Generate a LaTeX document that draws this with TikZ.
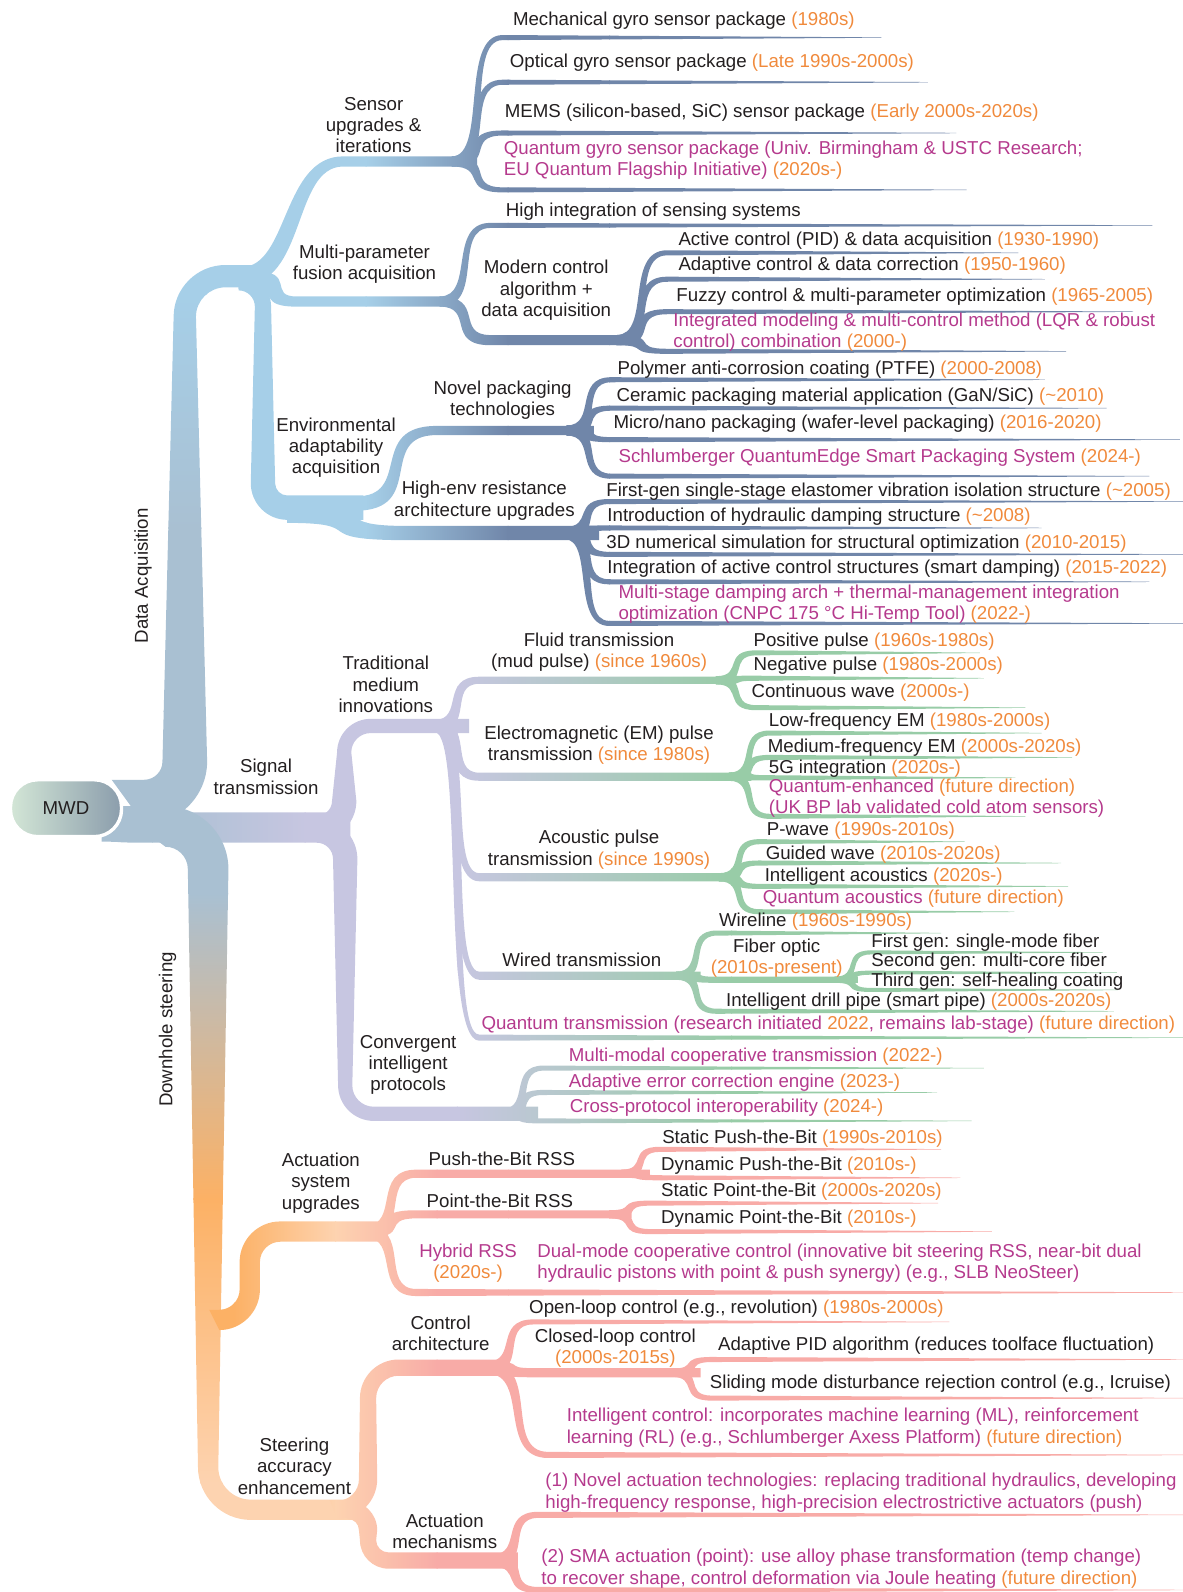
\documentclass[tikz,border=0pt]{standalone}
\usepackage{fontspec}
\setmainfont{Liberation Sans}

\definecolor{ink}{HTML}{231F20}
\definecolor{yearorange}{HTML}{F08A3C}
\definecolor{techmagenta}{HTML}{B53A8D}
\definecolor{trunkblue}{HTML}{A9C0D2}
\definecolor{dalight}{HTML}{A6CFE8}
\definecolor{dadark}{HTML}{7086A9}
\definecolor{siglav}{HTML}{C7C6E1}
\definecolor{siggreen}{HTML}{98CCA7}
\definecolor{steorange}{HTML}{FCB165}
\definecolor{stepeach}{HTML}{FDD3B0}
\definecolor{stepink}{HTML}{F8ABA7}
\definecolor{mwdleft}{HTML}{D3E6D6}
\definecolor{mwdright}{HTML}{8B9DAC}

\newcommand{\yrs}[1]{\textcolor{yearorange}{#1}}
\newcommand{\newtech}[1]{\textcolor{techmagenta}{#1}}
\newcommand{\twigbend}{0.8}

% twig: style, start (x,y), bend end (x,y), tip x, start/end/tip half widths
\newcommand{\twig}[9]{%
  \path[#1] (#2,{#3-#7})
    .. controls ({#2+\twigbend*(#4-#2)+sign(#5-#3)*#7},{#3-#7})
           and ({#4-\twigbend*(#4-#2)+sign(#5-#3)*#8},{#5-#8}) .. (#4,{#5-#8})
    -- (#6,{#5-#9}) -- (#6,{#5+#9}) -- (#4,{#5+#8})
    .. controls ({#4-\twigbend*(#4-#2)-sign(#5-#3)*#8},{#5+#8})
           and ({#2+\twigbend*(#4-#2)-sign(#5-#3)*#7},{#3+#7}) .. (#2,{#3+#7})
    -- cycle;}

% stem: style, start, end, tip x, half widths, corner radius
\newcommand{\stem}[9]{%
  \pgfmathsetmacro{\stemsg}{sign(#5-#3)}%
  \pgfmathsetmacro{\stemxc}{(#2+#4)/2}%
  \pgfmathsetmacro{\stemta}{\stemxc+\stemsg*#7}%
  \pgfmathsetmacro{\stemtb}{\stemxc+\stemsg*#8}%
  \pgfmathsetmacro{\stemba}{\stemxc-\stemsg*#7}%
  \pgfmathsetmacro{\stembb}{\stemxc-\stemsg*#8}%
  \pgfmathsetmacro{\stemra}{#9+\stemsg*#7}%
  \pgfmathsetmacro{\stemrb}{#9-\stemsg*#8}%
  \pgfmathsetmacro{\stemrc}{#9+\stemsg*#8}%
  \pgfmathsetmacro{\stemrd}{#9-\stemsg*#7}%
  \path[#1] (#2,{#3-#7}) -- ({\stemta-\stemra},{#3-#7})
    .. controls ({\stemta-0.45*\stemra},{#3-#7}) and (\stemta,{#3-#7+\stemsg*0.45*\stemra}) .. (\stemta,{#3-#7+\stemsg*\stemra})
    -- (\stemtb,{#5-#8-\stemsg*\stemrb})
    .. controls (\stemtb,{#5-#8-\stemsg*0.45*\stemrb}) and ({\stemtb+0.45*\stemrb},{#5-#8}) .. ({\stemtb+\stemrb},{#5-#8})
    -- (#6,{#5-#8}) -- (#6,{#5+#8}) -- ({\stembb+\stemrc},{#5+#8})
    .. controls ({\stembb+0.45*\stemrc},{#5+#8}) and (\stembb,{#5+#8-\stemsg*0.45*\stemrc}) .. (\stembb,{#5+#8-\stemsg*\stemrc})
    -- (\stemba,{#3+#7+\stemsg*\stemrd})
    .. controls (\stemba,{#3+#7+\stemsg*0.45*\stemrd}) and ({\stemba-0.45*\stemrd},{#3+#7}) .. ({\stemba-\stemrd},{#3+#7})
    -- cycle;}

\tikzset{
  txt/.style={inner sep=0pt, text=ink, font=\fontsize{13.8}{15.75}\selectfont},
  leaf/.style={txt, anchor=west, align=left},
  hub/.style={txt, align=center},
  hshade/.style n args={8}{path picture={
    \fill[#1] (-20,-20) rectangle ({#5+1},1600);
    \shade[left color=#1, right color=#2] (#5,-20) rectangle ({#6+1},1600);
    \shade[left color=#2, right color=#3] (#6,-20) rectangle ({#7+1},1600);
    \shade[left color=#3, right color=#4] (#7,-20) rectangle ({#8+1},1600);
    \fill[#4] (#8,-20) rectangle (1200,1600);}},
  vshade/.style n args={6}{path picture={
    \fill[#1] (-20,-20) rectangle (1200,{#4+1});
    \shade[top color=#1, bottom color=#2] (-20,#4) rectangle (1200,{#5+1});
    \shade[top color=#2, bottom color=#3] (-20,#5) rectangle (1200,{#6+1});
    \fill[#3] (-20,#6) rectangle (1200,1600);}},
  da/.style={hshade={dalight}{dalight}{dadark}{dadark}{200}{360}{500}{600}},
  tA/.style={vshade={dalight}{trunkblue}{trunkblue}{290}{520}{700}},
  sg/.style={hshade={trunkblue}{siglav}{siglav}{siggreen}{150}{300}{450}{720}},
  tC/.style={vshade={trunkblue}{steorange}{stepeach}{880}{1180}{1460}},
  st/.style={hshade={steorange}{stepeach}{stepink}{stepink}{230}{330}{430}{500}},
}

\begin{document}
\begin{tikzpicture}[x=0.75pt, y=-0.75pt]
\useasboundingbox (0,0) rectangle (1165,1568);

% Data acquisition
\stem{tA}{110}{790}{254}{272}{258}{22}{11}{40}
{\renewcommand{\twigbend}{0.55}\twig{da}{238}{272}{338}{159}{470}{9}{5}{5}}
\twig{da}{445}{159}{495}{37}{868}{5}{2.5}{0.2}
\twig{da}{445}{159}{495}{81}{914}{5}{2.5}{0.2}
\twig{da}{445}{159}{495}{131}{942}{5}{2.5}{0.2}
\twig{da}{445}{159}{495}{187}{952}{5}{2.5}{0.2}
\twig{da}{250}{276}{292}{297}{440}{9}{5}{5}
\twig{da}{433}{297}{483}{222}{1135}{5}{2.5}{0.2}
\twig{da}{433}{297}{483}{335}{628}{5}{5}{5}
\twig{da}{607}{335}{657}{249}{1003}{5}{2.5}{0.2}
\twig{da}{607}{335}{657}{275}{1029}{5}{2.5}{0.2}
\twig{da}{607}{335}{657}{307}{1116}{5}{2.5}{0.2}
\twig{da}{607}{335}{657}{346}{1050}{5}{2.5}{0.2}
\stem{da}{234}{278}{284}{500}{358}{8}{12}{24}
\twig{da}{350}{496}{430}{424}{585}{7}{4.5}{4.5}
\twig{da}{558}{424}{602}{374}{1029}{5}{2.5}{0.2}
\twig{da}{558}{424}{602}{402}{1090}{5}{2.5}{0.2}
\twig{da}{558}{424}{602}{433}{1162}{5}{2.5}{0.2}
\twig{da}{558}{424}{602}{469}{1132}{5}{2.5}{0.2}
\twig{da}{283}{505}{400}{525}{590}{10}{7}{7}
\twig{da}{556}{525}{600}{494}{1165}{6}{2.5}{0.2}
\twig{da}{556}{525}{600}{520}{1026}{6}{2.5}{0.2}
\twig{da}{556}{525}{600}{546}{1165}{6}{2.5}{0.2}
\twig{da}{556}{525}{600}{573}{1132}{6}{2.5}{0.2}
\twig{da}{556}{525}{600}{614}{1165}{6}{2.5}{0.2}

% Signal transmission
\twig{sg}{100}{813}{160}{815}{345}{16}{15}{15}
\stem{sg}{310}{815}{368}{715}{462}{12}{7}{26}
\stem{sg}{310}{818}{370}{1097}{530}{12}{7}{28}
\twig{sg}{428}{715}{472}{670}{725}{6}{3.5}{3.5}
\twig{sg}{428}{715}{472}{765}{740}{6}{4}{4}
\twig{sg}{428}{715}{472}{864}{728}{6}{4}{4}
\twig{sg}{428}{715}{472}{961}{690}{6}{4}{4}
\twig{sg}{428}{715}{472}{1022}{1165}{6}{3}{0.2}
\twig{sg}{705}{670}{745}{643}{965}{4}{2.5}{0.2}
\twig{sg}{705}{670}{745}{668}{969}{4}{2.5}{0.2}
\twig{sg}{705}{670}{745}{697}{1010}{4}{2.5}{0.2}
\twig{sg}{718}{765}{758}{722}{1026}{4}{2.5}{0.2}
\twig{sg}{718}{765}{758}{746}{1056}{4}{2.5}{0.2}
\twig{sg}{718}{765}{758}{766}{1000}{4}{2.5}{0.2}
\twig{sg}{718}{765}{758}{804}{1010}{4}{2.5}{0.2}
\twig{sg}{708}{864}{748}{829}{950}{4}{2.5}{0.2}
\twig{sg}{708}{864}{748}{850}{1045}{4}{2.5}{0.2}
\twig{sg}{708}{864}{748}{873}{1052}{4}{2.5}{0.2}
\twig{sg}{708}{864}{748}{898}{999}{4}{2.5}{0.2}
\twig{sg}{666}{961}{706}{919}{927}{4}{2.5}{0.2}
\twig{sg}{666}{961}{706}{965}{845}{4}{3}{3}
\twig{sg}{666}{961}{706}{996}{1097}{4}{2.5}{0.2}
\twig{sg}{822}{965}{858}{938}{1086}{3}{2}{0.2}
\twig{sg}{822}{965}{858}{958}{1100}{3}{2}{0.2}
\twig{sg}{822}{965}{858}{975}{1101}{3}{2}{0.2}
\twig{sg}{495}{1097}{535}{1052}{969}{5}{2.5}{0.2}
\twig{sg}{495}{1097}{535}{1076}{923}{5}{2.5}{0.2}
\twig{sg}{495}{1097}{535}{1104}{957}{5}{2.5}{0.2}

% Downhole steering
\stem{tC}{110}{814}{300}{1487}{350}{20}{10}{42}
\stem{st}{206}{1300}{286}{1213}{372}{10}{10}{30}
\twig{st}{360}{1213}{410}{1156}{640}{6}{4}{4}
\twig{st}{360}{1213}{410}{1196}{622}{6}{4}{4}
\twig{st}{360}{1213}{410}{1273}{1165}{6}{3.5}{0.2}
\twig{st}{612}{1156}{650}{1132}{927}{4}{2.5}{0.2}
\twig{st}{612}{1156}{650}{1160}{946}{4}{2.5}{0.2}
\twig{st}{600}{1196}{640}{1185}{924}{4}{2.5}{0.2}
\twig{st}{600}{1196}{640}{1213}{977}{4}{2.5}{0.2}
\stem{st}{325}{1487}{400}{1347}{502}{9}{8}{30}
\twig{st}{480}{1347}{525}{1302}{935}{6}{2.5}{0.2}
\twig{st}{480}{1347}{525}{1352}{690}{6}{4.5}{4.5}
\twig{st}{480}{1347}{540}{1433}{1165}{6}{3}{0.2}
\twig{st}{661}{1352}{701}{1339}{1165}{4}{2.5}{0.2}
\twig{st}{661}{1352}{701}{1377}{1165}{4}{2.5}{0.2}
\stem{st}{325}{1487}{400}{1537}{510}{9}{8}{20}
\twig{st}{485}{1537}{530}{1492}{1165}{6}{3}{0.2}
\twig{st}{485}{1537}{530}{1566}{1165}{6}{3}{0.2}

% Root
\node[txt, draw=white, line width=2.5pt, rounded corners=20pt, left color=mwdleft,
  right color=mwdright, minimum width=82pt, minimum height=42pt] (mwd) at (65,796) {MWD};

% Data acquisition labels
\node[txt, rotate=90] (dacq) at (141,567) {Data Acquisition};
\node[hub] (sensor) at (368,123) {Sensor\\upgrades \&\\iterations};
\node[leaf] (mech) at (505,20) {Mechanical gyro sensor package \yrs{(1980s)}};
\node[leaf] (optic) at (502,62) {Optical gyro sensor package \yrs{(Late 1990s-2000s)}};
\node[leaf] (mems) at (497,111) {MEMS (silicon-based, SiC) sensor package \yrs{(Early 2000s-2020s)}};
\node[leaf] (qgyro) at (496,158) {\newtech{Quantum gyro sensor package (Univ. Birmingham \& USTC Research;}\\\newtech{EU Quantum Flagship Initiative)} \yrs{(2020s-)}};
\node[hub] (multi) at (359,260) {Multi-parameter\\fusion acquisition};
\node[leaf] (hiint) at (498,208) {High integration of sensing systems};
\node[hub] (modern) at (538,286) {Modern control\\algorithm +\\data acquisition};
\node[leaf] (pid) at (668,237) {Active control (PID) \& data acquisition \yrs{(1930-1990)}};
\node[leaf] (adapt) at (668,262) {Adaptive control \& data correction \yrs{(1950-1960)}};
\node[leaf] (fuzzy) at (666,292) {Fuzzy control \& multi-parameter optimization \yrs{(1965-2005)}};
\node[leaf] (lqr) at (663,327) {\newtech{Integrated modeling \& multi-control method (LQR \& robust}\\\newtech{control) combination} \yrs{(2000-)}};
\node[hub] (environ) at (331,441) {Environmental\\adaptability\\acquisition};
\node[hub] (novel) at (495,394) {Novel packaging\\technologies};
\node[leaf] (ptfe) at (608,364) {Polymer anti-corrosion coating (PTFE) \yrs{(2000-2008)}};
\node[leaf] (ceramic) at (607,391) {Ceramic packaging material application (GaN/SiC) \yrs{(\textasciitilde 2010)}};
\node[leaf] (wafer) at (604,417) {Micro/nano packaging (wafer-level packaging) \yrs{(2016-2020)}};
\node[leaf] (qedge) at (609,451) {\newtech{Schlumberger QuantumEdge Smart Packaging System} \yrs{(2024-)}};
\node[hub] (highenv) at (477,493) {High-env resistance\\architecture upgrades};
\node[leaf] (elast) at (597,484) {First-gen single-stage elastomer vibration isolation structure \yrs{(\textasciitilde 2005)}};
\node[leaf] (hydra) at (598,509) {Introduction of hydraulic damping structure \yrs{(\textasciitilde 2008)}};
\node[leaf] (sim3d) at (597,535) {3D numerical simulation for structural optimization \yrs{(2010-2015)}};
\node[leaf] (smartdamp) at (598,560) {Integration of active control structures (smart damping) \yrs{(2015-2022)}};
\node[leaf] (cnpc) at (609,595) {\newtech{Multi-stage damping arch + thermal-management integration}\\\newtech{optimization (CNPC 175 °C Hi-Temp Tool)} \yrs{(2022-)}};

% Signal transmission labels
\node[hub] (signal) at (262,765) {Signal\\transmission};
\node[hub] (tradit) at (380,674) {Traditional\\medium\\innovations};
\node[hub] (fluid) at (590,642) {Fluid transmission\\(mud pulse) \yrs{(since 1960s)}};
\node[leaf] (pospulse) at (742,632) {Positive pulse \yrs{(1960s-1980s)}};
\node[leaf] (negpulse) at (742,656) {Negative pulse \yrs{(1980s-2000s)}};
\node[leaf] (contwave) at (740,682) {Continuous wave \yrs{(2000s-)}};
\node[hub] (empulse) at (590,734) {Electromagnetic (EM) pulse\\transmission \yrs{(since 1980s)}};
\node[leaf] (lowem) at (757,711) {Low-frequency EM \yrs{(1980s-2000s)}};
\node[leaf] (medem) at (756,736) {Medium-frequency EM \yrs{(2000s-2020s)}};
\node[leaf] (fiveg) at (757,757) {5G integration \yrs{(2020s-)}};
\node[leaf] (qem) at (757,786) {\newtech{Quantum-enhanced} \yrs{(future direction)}\\\newtech{(UK BP lab validated cold atom sensors)}};
\node[hub] (acoustic) at (590,837) {Acoustic pulse\\transmission \yrs{(since 1990s)}};
\node[leaf] (pwave) at (755,818) {P-wave \yrs{(1990s-2010s)}};
\node[leaf] (guided) at (754,842) {Guided wave \yrs{(2010s-2020s)}};
\node[leaf] (smartac) at (753,863) {Intelligent acoustics \yrs{(2020s-)}};
\node[leaf] (qacou) at (751,885) {\newtech{Quantum acoustics} \yrs{(future direction)}};
\node[hub] (wired) at (573,945) {Wired transmission};
\node[leaf] (wireline) at (708,908) {Wireline \yrs{(1960s-1990s)}};
\node[hub] (fiber) at (765,944) {Fiber optic\\\yrs{(2010s-present)}};
\node[leaf] (gen1) at (858,928) {First gen: single-mode fiber};
\node[leaf] (gen2) at (858,947) {Second gen: multi-core fiber};
\node[leaf] (gen3) at (858,967) {Third gen: self-healing coating};
\node[leaf] (smartpipe) at (715,987) {Intelligent drill pipe (smart pipe) \yrs{(2000s-2020s)}};
\node[leaf] (qtrans) at (474,1009) {\newtech{Quantum transmission (research initiated }\yrs{2022}\newtech{, remains lab-stage)} \yrs{(future direction)}};
\node[hub] (converge) at (402,1049) {Convergent\\intelligent\\protocols};
\node[leaf] (multimodal) at (560,1041) {\newtech{Multi-modal cooperative transmission} \yrs{(2022-)}};
\node[leaf] (errcorr) at (560,1066) {\newtech{Adaptive error correction engine} \yrs{(2023-)}};
\node[leaf] (crossproto) at (561,1091) {\newtech{Cross-protocol interoperability} \yrs{(2024-)}};

% Downhole steering labels
\node[txt, rotate=90] (downhole) at (165,1014) {Downhole steering};
\node[hub] (actsys) at (316,1165) {Actuation\\system\\upgrades};
\node[leaf] (pushrss) at (422,1141) {Push-the-Bit RSS};
\node[leaf] (pointrss) at (420,1183) {Point-the-Bit RSS};
\node[leaf] (spush) at (652,1121) {Static Push-the-Bit \yrs{(1990s-2010s)}};
\node[leaf] (dpush) at (651,1148) {Dynamic Push-the-Bit \yrs{(2010s-)}};
\node[leaf] (spoint) at (651,1174) {Static Point-the-Bit \yrs{(2000s-2020s)}};
\node[leaf] (dpoint) at (651,1200) {Dynamic Point-the-Bit \yrs{(2010s-)}};
\node[hub] (hybrid) at (461,1244) {\newtech{Hybrid RSS}\\\yrs{(2020s-)}};
\node[leaf] (neosteer) at (529,1244) {\newtech{Dual-mode cooperative control (innovative bit steering RSS, near-bit dual}\\\newtech{hydraulic pistons with point \& push synergy) (e.g., SLB NeoSteer)}};
\node[hub] (steeracc) at (290,1444) {Steering\\accuracy\\enhancement};
\node[hub] (ctrlarch) at (434,1313) {Control\\architecture};
\node[leaf] (openloop) at (521,1289) {Open-loop control (e.g., revolution) \yrs{(1980s-2000s)}};
\node[hub] (closedloop) at (606,1328) {Closed-loop control\\\yrs{(2000s-2015s)}};
\node[leaf] (apid) at (707,1325) {Adaptive PID algorithm (reduces toolface fluctuation)};
\node[leaf] (slide) at (699,1363) {Sliding mode disturbance rejection control (e.g., Icruise)};
\node[leaf] (intctrl) at (558,1406) {\newtech{Intelligent control: incorporates machine learning (ML), reinforcement}\\\newtech{learning (RL) (e.g., Schlumberger Axess Platform)} \yrs{(future direction)}};
\node[hub] (actmech) at (438,1508) {Actuation\\mechanisms};
\node[leaf] (actnew) at (537,1470) {\newtech{(1) Novel actuation technologies: replacing traditional hydraulics, developing}\\\newtech{high-frequency response, high-precision electrostrictive actuators (push)}};
\node[leaf] (sma) at (533,1545) {\newtech{(2) SMA actuation (point): use alloy phase transformation (temp change)}\\\newtech{to recover shape, control deformation via Joule heating} \yrs{(future direction)}};

\end{tikzpicture}
\end{document}
